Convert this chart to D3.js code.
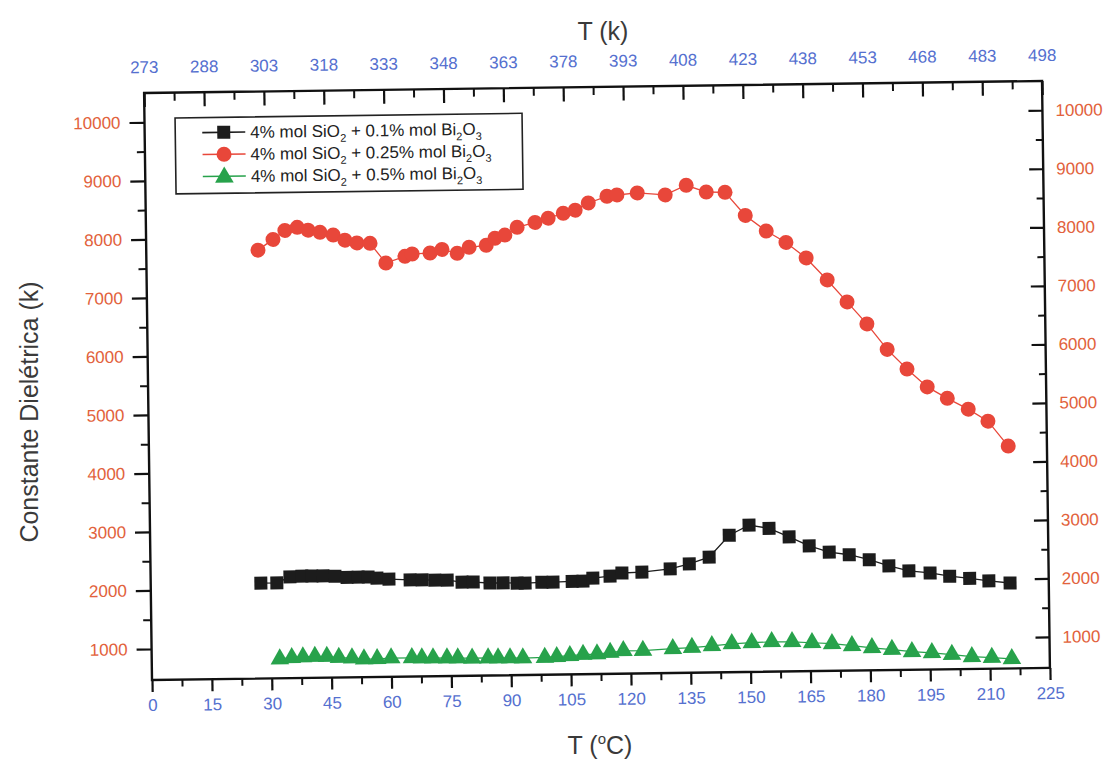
<!DOCTYPE html>
<html>
<head>
<meta charset="utf-8">
<script src="https://cdn.jsdelivr.net/npm/d3@7"></script>
<style>
body { margin: 0; background: #fff; }
svg { font-family: Arial, "Liberation Sans", sans-serif; }
</style>
</head>
<body>
<script>
var WIDTH = 1108,
    HEIGHT = 760,
    PLOT_W = 898,
    PLOT_H = 587,
    TILT = -0.77;   // the scanned figure is slightly rotated

// T (°C) and dielectric constant, one pair of arrays per sample
var tBlack = [27.6, 31.6, 34.9, 37.9, 40.4, 43.2, 46.2, 49.2, 52.0, 54.5, 56.7, 59.7, 65.0, 68.0, 71.2, 74.3,
              78.0, 80.8, 85.0, 88.3, 91.8, 93.8, 98.0, 100.8, 105.6, 108.3, 110.8, 115.1, 118.1, 123.1, 130.2,
              135.0, 140.0, 145.1, 150.1, 155.1, 160.1, 165.1, 170.1, 175.1, 180.1, 185.0, 190.0, 195.3, 200.2,
              205.2, 210.0, 215.3];
var kBlack = [2100, 2100, 2200, 2210, 2210, 2210, 2200, 2180, 2180, 2180, 2160, 2140, 2120, 2120, 2110, 2110,
              2070, 2070, 2050, 2050, 2040, 2040, 2050, 2050, 2060, 2060, 2110, 2140, 2190, 2200, 2250,
              2330, 2440, 2810, 2980, 2920, 2770, 2610, 2500, 2450, 2360, 2250, 2160, 2120, 2060,
              2020, 1970, 1930];

var tRed = [28.0, 31.8, 34.8, 37.9, 40.6, 43.6, 46.9, 49.8, 52.8, 56.1, 60.0, 64.8, 66.6, 71.1, 74.1, 77.9,
            80.9, 85.2, 87.4, 89.9, 93.0, 97.5, 100.8, 104.6, 107.6, 110.9, 115.6, 118.1, 123.2, 130.2, 135.5,
            140.5, 145.2, 150.2, 155.4, 160.3, 165.3, 170.5, 175.4, 180.3, 185.3, 190.2, 195.2, 200.2, 205.4,
            210.3, 215.3];
var kRed = [7790, 7970, 8120, 8170, 8120, 8080, 8030, 7940, 7890, 7880, 7540, 7650, 7690, 7700, 7760, 7690,
            7790, 7820, 7940, 7990, 8120, 8200, 8270, 8350, 8400, 8520, 8630, 8650, 8680, 8640, 8800,
            8680, 8670, 8270, 8000, 7800, 7530, 7150, 6770, 6390, 5950, 5610, 5300, 5100, 4910,
            4700, 4270];

var tGreen = [32.1, 35.1, 37.9, 40.9, 43.9, 46.9, 50.2, 53.2, 56.5, 60.0, 65.2, 67.7, 70.5, 74.0, 76.7, 80.3,
              84.3, 86.8, 89.8, 93.0, 98.5, 101.5, 104.8, 108.1, 111.6, 114.9, 118.2, 123.1, 130.6, 135.4,
              140.4, 145.4, 150.4, 155.4, 160.5, 165.5, 170.5, 175.5, 180.5, 185.5, 190.5, 195.5, 200.5,
              205.5, 210.5, 215.5];
var kGreen = [800, 820, 830, 835, 830, 810, 800, 780, 780, 790, 790, 785, 780, 780, 775, 770,
              770, 765, 765, 760, 765, 775, 790, 805, 810, 835, 860, 860, 885, 900,
              925, 955, 970, 980, 975, 955, 935, 895, 855, 820, 780, 755, 720,
              680, 660, 635];

var celsiusTicks = d3.range(0, 226, 15);
var celsiusMinor = d3.range(7.5, 225, 15);
var kTicks = d3.range(1000, 10001, 1000);
var kMinor = d3.range(1500, 10000, 1000);
var KELVIN = 273;

var legendRows = [
    { sample: 'black', pct: '0.1' },
    { sample: 'red', pct: '0.25' },
    { sample: 'green', pct: '0.5' }
];

var COLORS = { black: '#1c1c1c', red: '#e8473a', green: '#27a24b' },
    BLUE = '#5570cf',
    ORANGE = '#e2623c';

var svg = d3.select('body').append('svg')
    .attr('width', WIDTH)
    .attr('height', HEIGHT);

var plot = svg.append('g')
    .attr('transform', 'translate(152,680) rotate(' + TILT + ') translate(0,' + (-PLOT_H) + ')');

var x = d3.scaleLinear().domain([0, 225]).range([0, PLOT_W]);
var y = d3.scaleLinear().domain([470, 10500]).range([PLOT_H, 0]);

var line = d3.line()
    .x(d => x(d[0]))
    .y(d => y(d[1]));

drawSeries();
drawAxes();
drawLegend();
drawTitles();

function drawSeries() {
    var black = d3.zip(tBlack, kBlack),
        red = d3.zip(tRed, kRed),
        green = d3.zip(tGreen, kGreen);

    plot.append('path').datum(green)
        .attr('d', line).attr('fill', 'none')
        .attr('stroke', COLORS.green).attr('stroke-width', 1.2);
    plot.selectAll('.tri').data(green).enter().append('path')
        .attr('class', 'tri')
        .attr('transform', d => 'translate(' + x(d[0]) + ',' + y(d[1]) + ')')
        .attr('d', d3.symbol(d3.symbolTriangle, 150))
        .attr('fill', COLORS.green);

    plot.append('path').datum(black)
        .attr('d', line).attr('fill', 'none')
        .attr('stroke', COLORS.black).attr('stroke-width', 1.3);
    plot.selectAll('.sq').data(black).enter().append('rect')
        .attr('class', 'sq')
        .attr('x', d => x(d[0]) - 6.5)
        .attr('y', d => y(d[1]) - 6.5)
        .attr('width', 13).attr('height', 13)
        .attr('fill', COLORS.black);

    plot.append('path').datum(red)
        .attr('d', line).attr('fill', 'none')
        .attr('stroke', COLORS.red).attr('stroke-width', 1.3);
    plot.selectAll('.dot').data(red).enter().append('circle')
        .attr('class', 'dot')
        .attr('cx', d => x(d[0]))
        .attr('cy', d => y(d[1]))
        .attr('r', 7.5)
        .attr('fill', COLORS.red);
}

function styleAxis(g, color) {
    g.select('.domain').remove();
    g.selectAll('.tick line').attr('stroke', '#111').attr('stroke-width', 2.2);
    g.selectAll('text')
        .attr('fill', color)
        .attr('font-size', 17)
        .attr('font-family', 'Arial, "Liberation Sans", sans-serif');
}

function minor(g) {
    g.select('.domain').remove();
    g.selectAll('.tick line').attr('stroke', '#111').attr('stroke-width', 2);
}

function drawAxes() {
    // bottom, °C
    plot.append('g').attr('transform', 'translate(0,' + PLOT_H + ')')
        .call(d3.axisBottom(x).tickValues(celsiusMinor).tickSize(7).tickFormat(''))
        .call(minor);
    plot.append('g').attr('transform', 'translate(0,' + PLOT_H + ')')
        .call(d3.axisBottom(x).tickValues(celsiusTicks).tickSize(12).tickSizeOuter(0).tickPadding(7))
        .call(styleAxis, BLUE);

    // top, K (ticks pointing inward)
    plot.append('g')
        .call(d3.axisTop(x).tickValues(celsiusMinor).tickSize(-8).tickFormat(''))
        .call(minor);
    plot.append('g')
        .call(d3.axisTop(x).tickValues(celsiusTicks).tickSize(-14).tickSizeOuter(0).tickPadding(20)
            .tickFormat(d => d + KELVIN))
        .call(styleAxis, BLUE);

    // left
    plot.append('g')
        .call(d3.axisLeft(y).tickValues(kMinor).tickSize(8).tickFormat(''))
        .call(minor);
    plot.append('g')
        .call(d3.axisLeft(y).tickValues(kTicks).tickSize(15).tickSizeOuter(0).tickPadding(9)
            .tickFormat(d3.format('d')))
        .call(styleAxis, ORANGE);

    // right (ticks pointing inward)
    plot.append('g').attr('transform', 'translate(' + PLOT_W + ',0)')
        .call(d3.axisRight(y).tickValues(kMinor).tickSize(-7).tickFormat(''))
        .call(minor);
    plot.append('g').attr('transform', 'translate(' + PLOT_W + ',0)')
        .call(d3.axisRight(y).tickValues(kTicks).tickSize(-14).tickSizeOuter(0).tickPadding(13)
            .tickFormat(d3.format('d')))
        .call(styleAxis, ORANGE);

    // frame
    plot.append('rect')
        .attr('width', PLOT_W).attr('height', PLOT_H)
        .attr('fill', 'none')
        .attr('stroke', '#111').attr('stroke-width', 2.4);
}

function addFormula(text, pct) {
    var parts = [
        ['4% mol SiO', 0], ['2', 1], [' + ' + pct + '% mol Bi', 0], ['2', 1], ['O', 0], ['3', 1]
    ];
    var shift = 0;
    parts.forEach(function(p) {
        var target = p[1] ? 5 : 0;
        text.append('tspan')
            .attr('dy', target - shift)
            .attr('font-size', p[1] ? 11 : null)
            .text(p[0]);
        shift = target;
    });
}

function drawLegend() {
    var legend = plot.append('g').attr('transform', 'translate(30.6,25.3)');

    legend.append('rect')
        .attr('width', 347).attr('height', 76)
        .attr('fill', '#fff')
        .attr('stroke', '#222').attr('stroke-width', 1.6);

    legendRows.forEach(function(row, i) {
        var cy = 15 + i * 22,
            color = COLORS[row.sample],
            item = legend.append('g').attr('transform', 'translate(0,' + cy + ')');

        item.append('line')
            .attr('x1', 27).attr('x2', 70)
            .attr('stroke', color).attr('stroke-width', 1.6);

        if (row.sample === 'black') {
            item.append('rect').attr('x', 42).attr('y', -6.5)
                .attr('width', 13).attr('height', 13).attr('fill', color);
        } else if (row.sample === 'red') {
            item.append('circle').attr('cx', 48.5).attr('r', 7.5).attr('fill', color);
        } else {
            item.append('path').attr('transform', 'translate(48.5,1)')
                .attr('d', d3.symbol(d3.symbolTriangle, 150)).attr('fill', color);
        }

        var text = item.append('text')
            .attr('x', 75).attr('y', 6)
            .attr('font-size', 17)
            .attr('fill', '#222');
        addFormula(text, row.pct);
    });
}

function drawTitles() {
    svg.append('text')
        .attr('x', 603).attr('y', 40)
        .attr('text-anchor', 'middle')
        .attr('font-size', 25)
        .attr('fill', '#3a3a3a')
        .text('T (k)');

    var bottom = svg.append('text')
        .attr('x', 600).attr('y', 754)
        .attr('text-anchor', 'middle')
        .attr('font-size', 25)
        .attr('fill', '#3a3a3a');
    bottom.append('tspan').text('T (');
    bottom.append('tspan').attr('font-size', 15).attr('dy', -10).text('o');
    bottom.append('tspan').attr('dy', 10).text('C)');

    svg.append('text')
        .attr('transform', 'translate(38,412) rotate(-90)')
        .attr('text-anchor', 'middle')
        .attr('font-size', 25)
        .attr('fill', '#3a3a3a')
        .text('Constante Dielétrica (k)');
}
</script>
</body>
</html>
